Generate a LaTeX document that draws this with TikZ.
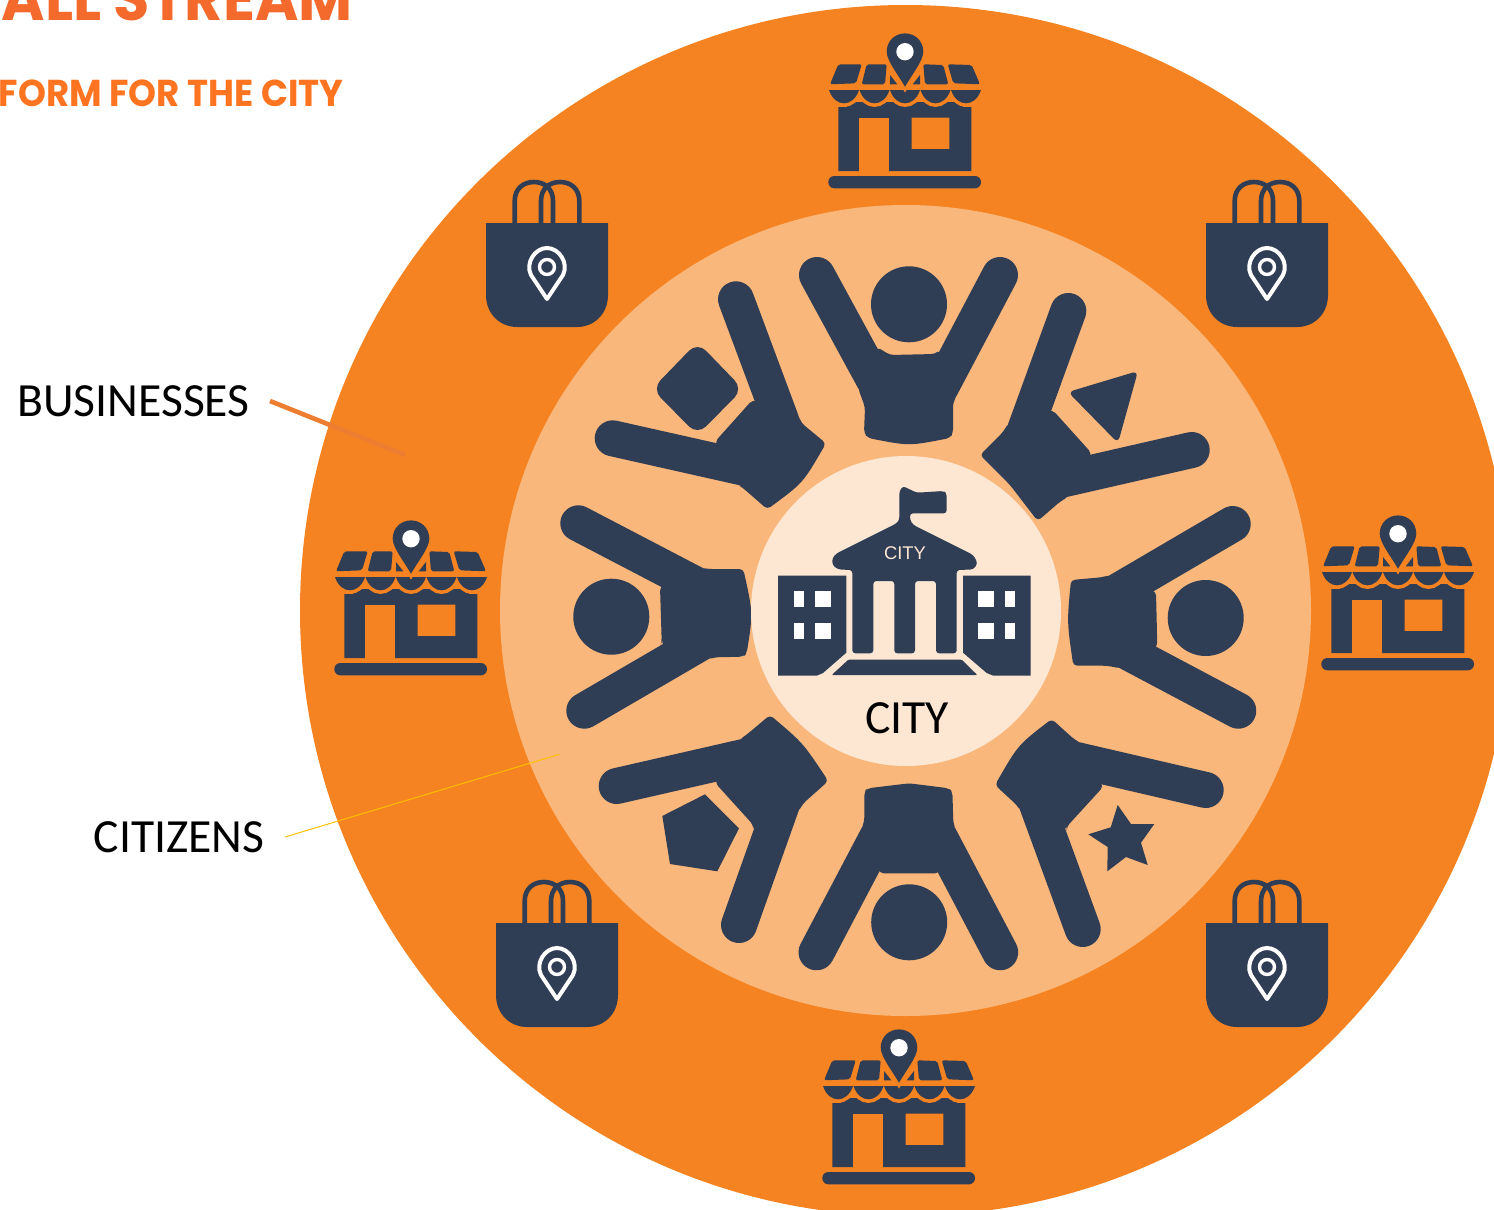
\documentclass[tikz,border=0pt]{standalone}
\usepackage{fontspec}
\setmainfont{Carlito}
\newfontfamily\titlefont[FakeStretch=0.95]{Poppins}
\newfontfamily\signfont{Liberation Sans}
\definecolor{ringouter}{HTML}{F68321}
\definecolor{ringmiddle}{HTML}{FAB77B}
\definecolor{ringinner}{HTML}{FDE7D3}
\definecolor{navy}{HTML}{2F3D55}
\definecolor{titleA}{HTML}{F46A2D}
\definecolor{titleB}{HTML}{FF7420}
\definecolor{linebus}{HTML}{ED7D31}
\definecolor{linecit}{HTML}{FFC000}
\tikzset{
	personarm/.style={draw=navy, line width=18pt, line cap=round},
	personbody/.style={fill=navy, rounded corners=2pt},
	label/.style={font=\fontsize{23.8}{24}\selectfont, text=black, inner sep=0pt},
	pics/shop/.style={code={
		% Panels
		\fill[navy, rounded corners=1pt] (-66.7,-20.7) -- (-43.3,-20.7) -- (-49,-1.7) -- (-75,-0.7) -- cycle;
		\fill[navy, rounded corners=1pt] (-38.3,-20.7) -- (-18.3,-20.7) -- (-20,-0.7) -- (-43.3,-0.7) -- cycle;
		\fill[navy, rounded corners=1pt] (18.3,-20.7) -- (38.3,-20) -- (43.3,-0.7) -- (20,-0.7) -- cycle;
		\fill[navy, rounded corners=1pt] (42.7,-20.7) -- (66.7,-20) -- (75,-0.7) -- (48.3,-1.7) -- cycle;
		\fill[navy] (-15,-10) -- (-7.7,-0.7) -- (-15,-0.7) -- cycle;
		\fill[navy] (15,-10) -- (7.7,-0.7) -- (15,-0.7) -- cycle;
		% Walls
		\fill[navy, even odd rule] (-66.7,17) rectangle (66.3,86) (6.7,32.7) rectangle (44.3,64);
		\fill[ringouter] (-45.7,32.7) rectangle (-16,87);
		\fill[ringouter] (-68,17) rectangle (-58,22);
		\fill[ringouter] (58,17) rectangle (68,22);
		% Awning
		\foreach \sx in {-76,-45.5,-15,15.5,46} {
			\draw[ringouter, line width=3.6pt] (\sx,5) .. controls (\sx+3,14) and (\sx+9,18.3) .. (\sx+15,18.3) .. controls (\sx+21,18.3) and (\sx+27,14) .. (\sx+30,5);
		}
		\foreach \sx in {-76,-45.5,-15,15.5,46} {
			\fill[navy] (\sx,5) .. controls (\sx+3,14) and (\sx+9,18.3) .. (\sx+15,18.3) .. controls (\sx+21,18.3) and (\sx+27,14) .. (\sx+30,5) -- cycle;
		}
		% Base
		\fill[navy, rounded corners=3pt] (-76.7,91) rectangle (76,103.3);
		% Pin
		\fill[navy, preaction={draw=ringouter, line width=3pt}] (0,1.7) .. controls (-8,-12) and (-18,-24) .. (-18.3,-33.3) .. controls (-18.3,-44) and (-10,-51.6) .. (0,-51.6) .. controls (10,-51.6) and (18.3,-44) .. (18.3,-33.3) .. controls (18,-24) and (8,-12) .. (0,1.7) -- cycle;
		\fill[white] (0,-33.3) circle (8.7);
	}},
	pics/bag/.style={code={
		\draw[navy, line width=2.3pt] (-32.3,-44) -- (-32.3,-66) .. controls (-32.3,-78) and (-24,-85) .. (-13,-85) .. controls (-2,-85) and (6,-78) .. (6,-66) -- (6,-44);
		\draw[navy, line width=2.3pt] (32.3,-44) -- (32.3,-66) .. controls (32.3,-78) and (24,-85) .. (13,-85) .. controls (2,-85) and (-6,-78) .. (-6,-66) -- (-6,-44);
		\fill[navy] (-61,-44) -- (61,-44) -- (61,28) .. controls (61,47) and (47,60) .. (30,60) -- (-30,60) .. controls (-47,60) and (-61,47) .. (-61,28) -- cycle;
		\draw[white, line width=2pt, line join=round] (0,32) -- (-16,8) .. controls (-22,-4) and (-12,-19) .. (0,-19) .. controls (12,-19) and (22,-4) .. (16,8) -- cycle;
		\draw[white, line width=1.7pt] (0,0) circle (7.5);
	}}
}
\begin{document}
\begin{tikzpicture}[x=0.5pt, y=-0.5pt]
	\useasboundingbox (0,0) rectangle (1494,1210);
	\clip (0,0) rectangle (1494,1210);

	% Title
	\node[anchor=base east, inner sep=0pt, text=titleA, font=\titlefont\bfseries\fontsize{31}{32}\selectfont] (titlemain) at (353,20) {ALL STREAM};
	\node[anchor=base east, inner sep=0pt, text=titleB, font=\titlefont\bfseries\fontsize{18.7}{20}\selectfont] (titlesub) at (344,106) {FORM FOR THE CITY};

	% Rings
	\fill[ringouter] (905.5,610.5) circle (605.5);
	\fill[ringmiddle] (905.5,610.5) circle (405.5);

	% Shops and bags
	\pic at (905,85) {shop};
	\pic at (411,572) {shop};
	\pic at (1398,567) {shop};
	\pic at (899,1081) {shop};
	\pic at (547,267) {bag};
	\pic at (1267,267) {bag};
	\pic at (557,967) {bag};
	\pic at (1267,967) {bag};

	% Person top
	\fill[navy] (909,304.3) circle (38);
	\draw[personarm] (817,275) -- (873.8,379.4) (1000,275) -- (941.2,386.4);
	\fill[personbody] (877,347) -- (890,355) -- (935,354) -- (940,350) -- (957,395) -- (953,403) -- (953,433) -- (950,438) .. controls (909,446) .. (868,438) -- (864,433) -- (865,407) -- (858,388) -- cycle;

	% Person top right
	\fill[navy, rounded corners=3pt] (1068,392) -- (1138,371) -- (1118,443) -- cycle;
	\draw[personarm] (1068.3,311) -- (1025.3,429.3) (1191.7,450) -- (1064.4,479.1);
	\fill[personbody] (1052.7,410) -- (1091.7,453.3) -- (1068.3,496.7) -- (1060,501.7) -- (1037.7,521) -- (1010,485) -- (980,455) -- (1003.3,431.7) -- (1008.3,423.3) -- cycle;

	% Person right
	\fill[navy] (1205.7,618) circle (38);
	\draw[personarm] (1232.7,524) -- (1119.2,590.5) (1238.3,710.7) -- (1128.4,652.4);
	\fill[personbody] (1156,591.7) -- (1157.3,646.7) -- (1120,668.3) -- (1106.7,665.7) -- (1073.3,665.7) .. controls (1067,622) .. (1071,580) -- (1101.7,577.3) -- (1110,575) -- cycle;

	% Person bottom right
	\fill[navy] (1117.7,805) -- (1131,824) -- (1154.3,824) -- (1141,842.7) -- (1147.7,865) -- (1126,857) -- (1107.3,871.3) -- (1107.7,847) -- (1088.3,834.3) -- (1110.7,827.3) -- cycle;
	\draw[personarm] (1205.7,790) -- (1076,759.9) (1082.7,929) -- (1036.9,803.9);
	\fill[personbody] (1103.3,786.7) -- (1066.7,826.7) -- (1066.7,830) -- (1020,810) -- (1016.7,805) -- (995,785) .. controls (1018,745) .. (1051.7,719) -- (1075,740) -- (1080,742.3) -- cycle;

	% Person bottom
	\fill[navy] (909.2,922.3) circle (38);
	\draw[personarm] (816.5,952.3) -- (877.3,836.8) (1000.2,952.3) -- (939.4,836.7);
	\fill[personbody] (879.8,873.3) -- (939,873.3) -- (955.3,828.3) -- (953.3,823) -- (952.4,791.7) -- (949,788.3) -- (909.2,783.3) -- (867.6,788.3) -- (864.3,791.7) -- (864.3,821.7) -- (861.4,828.3) -- cycle;

	% Person bottom left
	\fill[navy] (705,794.3) -- (739,828.3) -- (717.3,871.3) -- (670,864) -- (662.3,816) -- cycle;
	\draw[personarm] (616.7,786) -- (744,756.9) (739,925) -- (781.4,805.6);
	\fill[personbody] (715,782.7) -- (753.3,825) -- (753.3,830) -- (798.3,811.7) -- (803.3,803.3) -- (828.3,781) .. controls (803,743) .. (770,715) -- (748.3,733.3) -- (740,739.3) -- cycle;

	% Person left
	\fill[navy] (611.3,616.7) circle (38);
	\draw[personarm] (578.3,523.3) -- (695,584.2) (584.3,710.7) -- (699.1,643.8);
	\fill[personbody] (660,586.7) -- (661.7,641.7) -- (661,644) -- (708.3,659.3) -- (715,657.3) -- (743.3,656.7) -- (746.7,653.3) .. controls (753,613) .. (743.3,569) -- (708.3,569) -- (703,568) -- cycle;

	% Person top left
	\fill[navy, rounded corners=6pt] (697.5,342) -- (743,389) -- (697.5,435) -- (652,389) -- cycle;
	\draw[personarm] (736,299.3) -- (781.4,421.2) (612.7,438.3) -- (742.2,467.4);
	\fill[personbody] (752.3,400) -- (715,441.7) -- (738.3,485) -- (743.3,488.3) -- (767.3,509.3) .. controls (803,483) .. (826,443.3) -- (801.7,423.3) -- (798.3,415) -- cycle;

	% City
	\fill[ringinner] (906,611) circle (155);
	\fill[navy] (778,575.7) -- (846.3,575.7) -- (846.3,652.7) -- (823,673) -- (816.7,675.7) -- (778,675.7) -- cycle;
	\fill[navy] (963,575.7) -- (1030.7,575.7) -- (1030.7,675.7) -- (993.3,675.7) -- (986.7,673) -- (963,652.7) -- cycle;
	\foreach \wy in {591,623} {
		\fill[white] (794,\wy) rectangle (804.3,\wy+16);
		\fill[white] (815,\wy) rectangle (831,\wy+16);
		\fill[white] (978,\wy) rectangle (994,\wy+16);
		\fill[white] (1005,\wy) rectangle (1015,\wy+16);
	}
	\fill[navy, rounded corners=0.5pt] (848.3,659.7) -- (961.7,659.7) -- (977.3,675) -- (831.7,675) -- cycle;
	\fill[navy, rounded corners=1.5pt] (836.7,553.3) -- (896.7,523.3) -- (899.3,520) -- (899.3,491.7) -- (902.7,486) -- (916.7,492.7) -- (943.3,491) -- (946.7,493.3) -- (946.7,513.3) -- (910,513.3) -- (910,520) -- (913.3,525) -- (973.3,555) -- (977.7,563.3) -- (973.3,569.5) -- (956.7,570) -- (956.7,653.3) -- (936,653.3) -- (936,581) -- (915,581) -- (915,653.3) -- (894.3,653.3) -- (894.3,581) -- (873.3,581) -- (873.3,653.3) -- (852.3,653.3) -- (852.3,570) -- (838.3,569.5) -- (832.3,565) -- (832.3,558) -- cycle;
	\node[inner sep=0pt, text=ringinner, font=\signfont\fontsize{9.2}{10}\selectfont] (citysign) at (905,553.5) {CITY};
	\node[label] (city) at (907,718) {CITY};

	% Labels
	\node[label, anchor=east] (businesses) at (250,401) {BUSINESSES};
	\node[label, anchor=east] (citizens) at (265,837) {CITIZENS};
	\coordinate (businessesend) at (405,455);
	\coordinate (citizensend) at (559.5,754.3);
	\draw[linebus, line width=2.3pt] ([xshift=10pt]businesses.east) -- (businessesend);
	\draw[linecit, line width=0.5pt] ([xshift=10pt]citizens.east) -- (citizensend);
\end{tikzpicture}
\end{document}
